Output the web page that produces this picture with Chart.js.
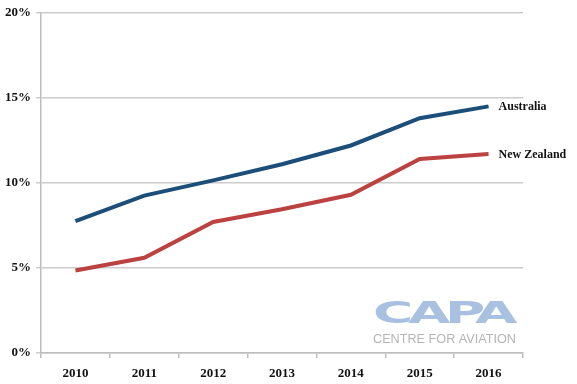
<!DOCTYPE html>
<html>
<head>
<meta charset="utf-8">
<script src="https://cdn.jsdelivr.net/npm/chart.js@4/dist/chart.umd.min.js"></script>
<style>
html,body{margin:0;padding:0;background:#fff;}
#wrap{width:577px;height:384px;position:relative;}
</style>
</head>
<body>
<div id="wrap"><canvas id="c" width="577" height="384"></canvas></div>
<script>
const categories = ['2010','2011','2012','2013','2014','2015','2016'];
const australia = [7.75, 9.25, 10.15, 11.1, 12.2, 13.8, 14.5];
const newZealand = [4.85, 5.6, 7.7, 8.45, 9.3, 11.4, 11.7];
const seriesNames = ['Australia', 'New Zealand'];
const yTicks = [0, 5, 10, 15, 20];

const endLabels = {
  id: 'endLabels',
  afterDatasetsDraw(chart) {
    const ctx = chart.ctx;
    ctx.save();
    ctx.font = 'bold 12px "Liberation Serif", serif';
    ctx.fillStyle = '#111';
    ctx.textAlign = 'left';
    ctx.textBaseline = 'middle';
    chart.data.datasets.forEach((ds, i) => {
      const meta = chart.getDatasetMeta(i);
      const pt = meta.data[meta.data.length - 1];
      ctx.fillText(ds.label, pt.x + 10, pt.y + 1);
    });
    ctx.restore();
  }
};

const logo = {
  id: 'logo',
  afterDraw(chart) {
    const ctx = chart.ctx;
    ctx.save();
    const x0 = 373, w = 139;
    ctx.font = 'bold 31px "DejaVu Sans", sans-serif';
    ctx.letterSpacing = '-3px';
    ctx.fillStyle = '#a9c1e1';
    ctx.textBaseline = 'alphabetic';
    let m = ctx.measureText('CAPA');
    ctx.translate(x0, 323);
    ctx.scale(w / m.width, 1);
    ctx.fillText('CAPA', 0, 0);
    ctx.restore();
    ctx.save();
    ctx.font = '12px "Liberation Sans", Arial, sans-serif';
    ctx.fillStyle = '#b5b5b5';
    m = ctx.measureText('CENTRE FOR AVIATION');
    ctx.translate(x0, 343);
    ctx.scale(143 / m.width, 1);
    ctx.fillText('CENTRE FOR AVIATION', 0, 0);
    ctx.restore();
  }
};

new Chart(document.getElementById('c'), {
  type: 'line',
  data: {
    labels: categories,
    datasets: [
      { label: seriesNames[0], data: australia, borderColor: '#1c4e7a', borderWidth: 4, pointRadius: 0, tension: 0, fill: false },
      { label: seriesNames[1], data: newZealand, borderColor: '#bb4240', borderWidth: 4, pointRadius: 0, tension: 0, fill: false }
    ]
  },
  options: {
    responsive: false,
    animation: false,
    layout: { padding: { left: 0, right: 54, top: 10, bottom: 0 } },
    plugins: { legend: { display: false }, tooltip: { enabled: false } },
    scales: {
      x: {
        offset: true,
        grid: { offset: true, drawOnChartArea: false, drawTicks: true, tickLength: 5, color: '#bdbdbd', lineWidth: 1.5 },
        border: { color: '#bdbdbd', width: 1.5 },
        ticks: { color: '#111', font: { family: '"Liberation Serif", serif', size: 13, weight: 'bold' }, padding: 8, maxRotation: 0 },
        afterFit(s) { s.height = 31; }
      },
      y: {
        min: 0, max: 20,
        afterBuildTicks(s) { s.ticks = yTicks.map(v => ({ value: v })); },
        grid: { color: '#cccccc', lineWidth: 1.5, tickLength: 5 },
        border: { color: '#bdbdbd', width: 1.5 },
        ticks: { color: '#111', font: { family: '"Liberation Serif", serif', size: 13, weight: 'bold' }, padding: 5, callback: v => v + '%' },
        afterFit(s) { s.width = 41; }
      }
    }
  },
  plugins: [endLabels, logo]
});
</script>
</body>
</html>
